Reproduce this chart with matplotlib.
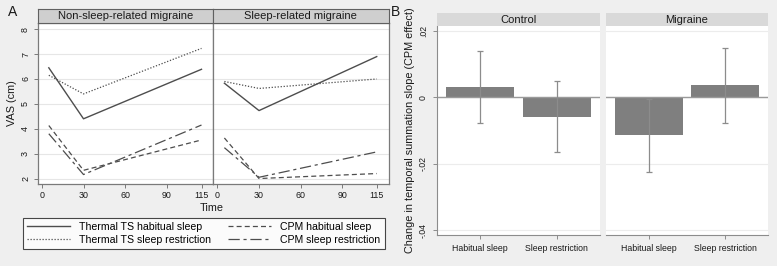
import matplotlib
matplotlib.use("Agg")
import matplotlib.pyplot as plt
from matplotlib.lines import Line2D

plt.rcParams['font.family'] = ['Liberation Sans', 'DejaVu Sans']

# panel A data (VAS, cm)
time = [5, 30, 115]
panels_a = ["Non-sleep-related migraine", "Sleep-related migraine"]
ts_habitual = [[6.45, 4.4, 6.39], [5.83, 4.73, 6.9]]
ts_restriction = [[6.15, 5.4, 7.23], [5.9, 5.62, 6.0]]
cpm_habitual = [[4.13, 2.33, 3.55], [3.63, 2.0, 2.2]]
cpm_restriction = [[3.8, 2.16, 4.15], [3.24, 2.05, 3.07]]
series_labels = ["Thermal TS habitual sleep", "Thermal TS sleep restriction",
                 "CPM habitual sleep", "CPM sleep restriction"]

# panel B data (change in TS slope)
panels_b = ["Control", "Migraine"]
conditions = ["Habitual sleep", "Sleep restriction"]
effect = [[0.0031, -0.0058], [-0.0114, 0.0036]]
ci_low = [[-0.0076, -0.0166], [-0.0224, -0.0076]]
ci_high = [[0.0139, 0.0049], [-0.0006, 0.0149]]

W, H = 777, 266
BG = "#efefef"
LINE = "#4d4d4d"


def box(x0, y0, x1, y1):
    return [x0 / W, 1 - y1 / H, (x1 - x0) / W, (y1 - y0) / H]


def strip(rect, text, face, edge):
    sa = fig.add_axes(box(*rect))
    sa.set_facecolor(face)
    sa.set_xticks([])
    sa.set_yticks([])
    for s in sa.spines.values():
        if edge is None:
            s.set_visible(False)
        else:
            s.set_color(edge)
            s.set_linewidth(0.8)
    sa.text(0.5, 0.45, text, ha="center", va="center", fontsize=8.0, color="#1a1a1a")


fig = plt.figure(figsize=(W / 100, H / 100), dpi=100, facecolor=BG)

styles = [dict(ls="-", lw=1.0), dict(ls=(0, (1, 1.4)), lw=0.9),
          dict(ls=(0, (4, 2.5)), lw=0.9), dict(ls=(0, (9, 3, 2.5, 3)), lw=0.9)]

a_x = [(37.7, 213.3), (213.3, 388.5)]
for i, (x0, x1) in enumerate(a_x):
    ax = fig.add_axes(box(x0, 23, x1, 183.5))
    ax.set_facecolor("white")
    data = [ts_habitual[i], ts_restriction[i], cpm_habitual[i], cpm_restriction[i]]
    for vals, st in zip(data, styles):
        ax.plot(time, vals, color=LINE, **st)
    ax.set_xlim(-3, 123.5)
    ax.set_ylim(1.8, 8.25)
    ax.set_xticks([0, 30, 60, 90, 115])
    ax.set_yticks(range(2, 9))
    ax.grid(axis="y", color="#e6e6e6", lw=0.8)
    ax.set_axisbelow(True)
    for s in ax.spines.values():
        s.set_color("#7a7a7a")
        s.set_linewidth(0.9)
    ax.tick_params(colors="#7a7a7a", labelcolor="#1a1a1a", labelsize=6.4, length=3,
                   width=0.7, pad=2.5)
    if i == 0:
        ax.set_yticklabels([str(v) for v in range(2, 9)], rotation=90, va="center")
        ax.set_ylabel("VAS (cm)", fontsize=7.8, color="#1a1a1a", labelpad=3)
    else:
        ax.tick_params(axis="y", left=False, labelleft=False)
    strip((x0, 8.5, x1, 23), panels_a[i], "#cfcfcf", "#606060")

fig.text(212 / W, 1 - 208 / H, "Time", ha="center", va="center", fontsize=7.8, color="#1a1a1a")

handles = [Line2D([], [], color=LINE, **st) for st in styles]
leg = fig.legend(handles, series_labels,
                 loc="upper left", bbox_to_anchor=(23 / W, 1 - 217.5 / H),
                 ncol=2, fontsize=7.6, frameon=True, fancybox=False,
                 handlelength=4.1, handletextpad=0.85, borderaxespad=0, labelspacing=0.3,
                 borderpad=0.38, columnspacing=1.6)
leg.get_frame().set_edgecolor("#1a1a1a")
leg.get_frame().set_linewidth(0.8)
leg.get_frame().set_facecolor("white")

b_x = [(437, 600), (606, 768)]
pos = [1, 2]
for i, (x0, x1) in enumerate(b_x):
    ax = fig.add_axes(box(x0, 26, x1, 235))
    ax.set_facecolor("white")
    lo = [e - l for e, l in zip(effect[i], ci_low[i])]
    hi = [h - e for e, h in zip(effect[i], ci_high[i])]
    ax.bar(pos, effect[i], width=0.89, color="#7f7f7f", zorder=2)
    ax.errorbar(pos, effect[i], yerr=[lo, hi], fmt="none", ecolor="#8c8c8c",
                elinewidth=0.9, capsize=2.5, capthick=0.9, zorder=3)
    ax.axhline(0, color="#9a9a9a", lw=1.0, zorder=2.5)
    ax.set_xlim(0.435, 2.565)
    ax.set_ylim(-0.0415, 0.0215)
    ax.set_yticks([-0.04, -0.02, 0, 0.02])
    ax.grid(axis="y", color="#ececec", lw=0.8)
    ax.set_axisbelow(True)
    ax.set_xticks(pos)
    ax.set_xticklabels(conditions)
    for k in ["top", "right"]:
        ax.spines[k].set_visible(False)
    ax.spines["bottom"].set_color("#8c8c8c")
    ax.spines["left"].set_color("#8c8c8c")
    ax.tick_params(colors="#8c8c8c", labelcolor="#1a1a1a", labelsize=6.3, length=3, width=0.7)
    if i == 0:
        ax.set_yticklabels(["-.04", "-.02", "0", ".02"], rotation=90, va="center")
        ax.set_ylabel("Change in temporal summation slope (CPM effect)", fontsize=7.8,
                      color="#1a1a1a", labelpad=3)
    else:
        ax.spines["left"].set_visible(False)
        ax.tick_params(axis="y", left=False, labelleft=False)
    strip((x0, 13, x1, 26), panels_b[i], "#d9d9d9", None)

fig.text(8 / W, 1 - 12 / H, "A", fontsize=10, ha="left", va="center", color="#1a1a1a")
fig.text(391 / W, 1 - 12 / H, "B", fontsize=10, ha="left", va="center", color="#1a1a1a")

fig.savefig("out.png", dpi=100, facecolor=BG)
